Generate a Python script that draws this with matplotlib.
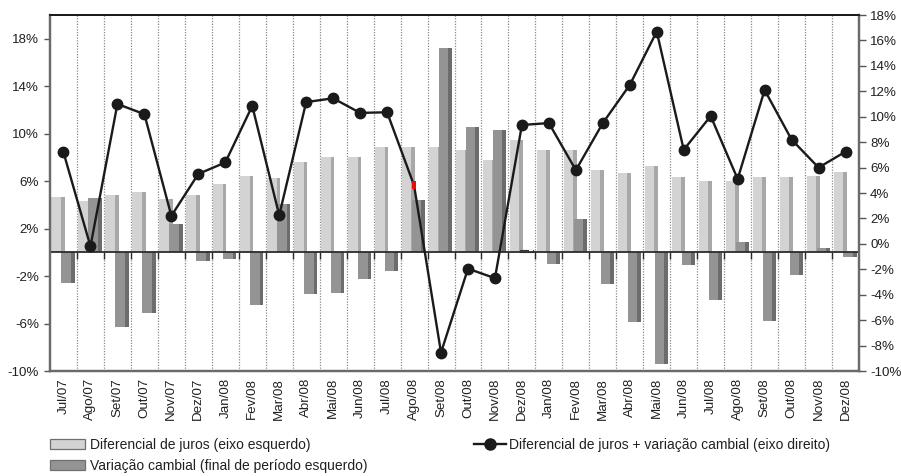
import matplotlib
matplotlib.use("Agg")
import matplotlib.pyplot as plt
import numpy as np
from matplotlib.patches import Patch
from matplotlib.lines import Line2D

plt.rcParams['font.family'] = ['Liberation Sans', 'DejaVu Sans']

meses = ['Jul/07', 'Ago/07', 'Set/07', 'Out/07', 'Nov/07', 'Dez/07', 'Jan/08', 'Fev/08',
         'Mar/08', 'Abr/08', 'Mai/08', 'Jun/08', 'Jul/08', 'Ago/08', 'Set/08', 'Out/08',
         'Nov/08', 'Dez/08', 'Jan/08', 'Fev/08', 'Mar/08', 'Abr/08', 'Mai/08', 'Jun/08',
         'Jul/08', 'Ago/08', 'Set/08', 'Out/08', 'Nov/08', 'Dez/08']

# Diferencial de juros (% , eixo esquerdo)
diferencial = [4.7, 4.3, 4.8, 5.1, 4.5, 4.85, 5.8, 6.4, 6.3, 7.65, 8.05, 8.05, 8.85, 8.85,
               8.85, 8.65, 7.75, 9.5, 8.6, 8.6, 6.9, 6.65, 7.25, 6.35, 6.0, 6.0, 6.35, 6.35,
               6.45, 6.75]

# Variação cambial no fim do período (%, eixo esquerdo)
variacao = [-2.6, 4.55, -6.3, -5.15, 2.4, -0.7, -0.6, -4.4, 4.05, -3.55, -3.4, -2.25, -1.55,
            4.4, 17.25, 10.55, 10.35, 0.2, -0.95, 2.8, -2.7, -5.85, -9.4, -1.1, -4.0, 0.85,
            -5.75, -1.9, 0.4, -0.4]

# Diferencial de juros + variação cambial (%, eixo direito)
total = [7.2, -0.2, 11.0, 10.2, 2.2, 5.5, 6.4, 10.85, 2.25, 11.15, 11.45, 10.3, 10.35, 4.6,
         -8.55, -1.95, -2.7, 9.35, 9.5, 5.8, 9.5, 12.5, 16.7, 7.4, 10.05, 5.1, 12.1, 8.2,
         6.0, 7.25]

esq_ticks = [-10, -6, -2, 2, 6, 10, 14, 18]
dir_ticks = list(range(-10, 19, 2))

LIGHT, LIGHT_EDGE = '#d3d3d3', '#a8a8a8'
DARK, DARK_EDGE = '#949494', '#6c6c6c'
TXT = '#231f20'

x = np.arange(len(meses))
n = len(meses)

fig = plt.figure(figsize=(9.01, 4.76), dpi=100)
ax = fig.add_axes([50 / 901, 1 - 371 / 476, 809 / 901, 356 / 476])
ax2 = ax.twinx()

w = 0.49
strip = 0.14
off_l, off_d = -0.2, 0.17

# vertical dotted separators between months
for b in np.arange(0.5, n - 0.5, 1):
    ax.axvline(b, color='#8a8a8a', lw=0.9, ls=(0, (1, 1.2)), zorder=0)

# light bars with shaded right edge
ax.bar(x + off_l, diferencial, width=w, color=LIGHT, zorder=2, linewidth=0)
ax.bar(x + off_l + w / 2 - strip / 2, diferencial, width=strip, color=LIGHT_EDGE, zorder=2,
       linewidth=0)

# dark bars with shaded right edge
dark_face = [('white' if abs(v) < 0.3 else DARK) for v in variacao]
dark_side = [('white' if abs(v) < 0.3 else DARK_EDGE) for v in variacao]
dark_line = [('#333333' if abs(v) < 0.3 else 'none') for v in variacao]
ax.bar(x + off_d, variacao, width=w, color=dark_face, edgecolor=dark_line, linewidth=0.8,
       zorder=3)
ax.bar(x + off_d + w / 2 - strip / 2, variacao, width=strip, color=dark_side,
       edgecolor='none', linewidth=0, zorder=3)

# zero line with small ticks at month boundaries
ax.axhline(0, color='#2b2b2b', lw=1.3, zorder=4)
ax.vlines(np.arange(0.5, n - 0.5, 1), -0.55, 0, color='#2b2b2b', lw=1.0, zorder=4)

ax.set_xlim(-0.5, n - 0.5)
ax.set_ylim(-10, 20)
ax.set_yticks(esq_ticks)
ax.set_yticklabels([f'{t}%' for t in esq_ticks], fontsize=9.6, color=TXT)
ax.set_xticks(x)
ax.set_xticklabels(meses, rotation=90, fontsize=9.6, color=TXT)
ax.tick_params(axis='x', length=0, pad=5)
ax.tick_params(axis='y', length=4, width=1, color='#555555', pad=4)

# line on the right axis
ax2.set_ylim(-10, 18)
ax2.set_yticks(dir_ticks)
ax2.set_yticklabels([f'{t}%' for t in dir_ticks], fontsize=9.6, color=TXT)
ax2.tick_params(axis='y', length=5, width=1, color='#555555', pad=3)
sem_marcador = 13
idx = [i for i in range(n) if i != sem_marcador]
ax2.plot(x, total, color='#1a1a1a', lw=1.7, marker='o', markersize=7.5,
         markerfacecolor='#1a1a1a', markeredgecolor='#1a1a1a', markevery=idx, zorder=5)
rect = [(-0.5, -1), (0.5, -1), (0.5, 1), (-0.5, 1), (-0.5, -1)]
ax2.plot([x[sem_marcador]], [total[sem_marcador]], ls='none', marker=rect, markersize=6,
         color='#e01010', markeredgewidth=0, zorder=6)

ax2.set_zorder(ax.get_zorder() + 1)
ax2.patch.set_visible(False)

for a in (ax, ax2):
    a.spines['top'].set_color('#1a1a1a')
    a.spines['top'].set_linewidth(1.3)
    for s in ('left', 'right', 'bottom'):
        a.spines[s].set_color('#6a6a6a')
        a.spines[s].set_linewidth(1.6)

# legends
h_light = Patch(facecolor=LIGHT, edgecolor='#6f6f6f', linewidth=0.9)
h_dark = Patch(facecolor=DARK, edgecolor='#6f6f6f', linewidth=0.9)
leg1 = fig.legend([h_light, h_dark],
                  ['Diferencial de juros (eixo esquerdo)',
                   'Variação cambial (final de período esquerdo)'],
                  loc='upper left', bbox_to_anchor=(50 / 901, 1 - 438 / 476),
                  frameon=False, fontsize=10, handlelength=2.55, handleheight=0.75,
                  handletextpad=0.35, labelspacing=0.5, borderpad=0, borderaxespad=0)
for t in leg1.get_texts():
    t.set_color(TXT)
h_line = Line2D([0], [0], color='#1a1a1a', lw=1.7, marker='o', markersize=8)
leg2 = fig.legend([h_line], ['Diferencial de juros + variação cambial (eixo direito)'],
                  loc='upper left', bbox_to_anchor=(474 / 901, 1 - 438 / 476),
                  frameon=False, fontsize=10, handlelength=2.3, handletextpad=0.2,
                  borderpad=0, borderaxespad=0)
for t in leg2.get_texts():
    t.set_color(TXT)

fig.savefig('out.png', dpi=100)
